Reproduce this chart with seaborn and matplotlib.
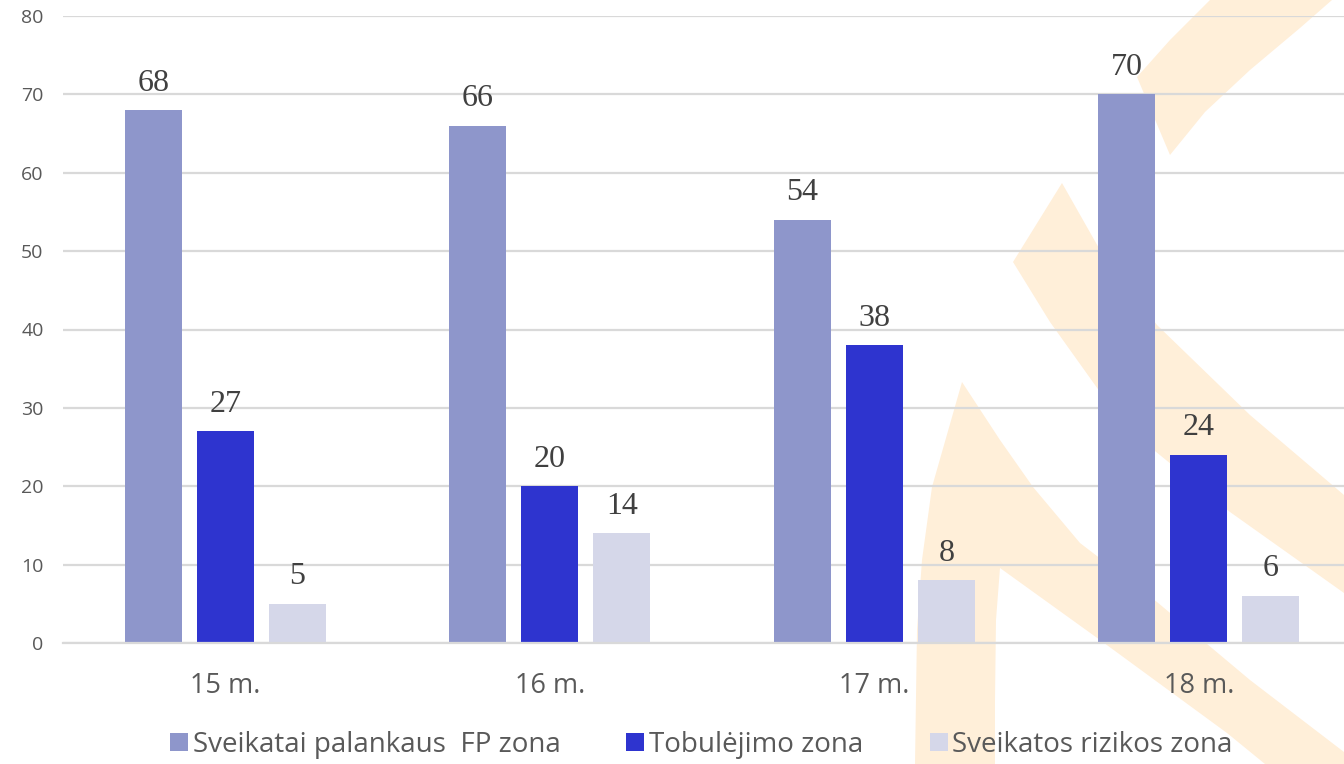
#!/usr/bin/env python3
# -*- coding: utf-8 -*-
"""
Amžiaus grupių pasiskirstymas pagal fizinio pajėgumo zonas (grupuotos stulpelinės diagramos)
"""

import pandas as pd
import matplotlib.pyplot as plt
import seaborn as sns
from matplotlib.lines import Line2D
from matplotlib.patches import Polygon
import warnings

warnings.filterwarnings('ignore')

# duomenys
categories = ['15 m.', '16 m.', '17 m.', '18 m.']
series_names = ['Sveikatai palankaus  FP zona', 'Tobulėjimo zona', 'Sveikatos rizikos zona']
palankaus = [68, 66, 54, 70]
tobulejimo = [27, 20, 38, 24]
rizikos = [5, 14, 8, 6]
y_ticks = [0, 10, 20, 30, 40, 50, 60, 70, 80]

colors = ['#8E96CB', '#2E34CF', '#D5D7E9']
text_gray = '#595959'
grid_gray = '#D9D9D9'
watermark = '#FFEFD9'

# fono "logotipo" juostos (dekoracija, pikseliais)
wm_shapes = [
    [(1210, 0), (1332, 0), (1300, 28), (1250, 70), (1205, 112), (1170, 155),
     (1137, 77), (1170, 40)],
    [(1062, 183), (1100, 250), (1157, 325), (1250, 415), (1344, 495),
     (1344, 593), (1230, 512), (1150, 447), (1100, 392), (1050, 322), (1013, 262)],
    [(962, 382), (1000, 440), (1033, 487), (1080, 543), (1157, 602), (1250, 680),
     (1344, 752), (1344, 764), (1265, 764), (1227, 733), (1100, 640), (1000, 568),
     (996, 620), (995, 700), (995, 764), (915, 764), (917, 630), (922, 560), (932, 487)],
]


def build_frame():
    rows = []
    for name, vals in zip(series_names, [palankaus, tobulejimo, rizikos]):
        for cat, v in zip(categories, vals):
            rows.append({'amzius': cat, 'zona': name, 'reiksme': v})
    return pd.DataFrame(rows)


def main():
    sns.set_theme(style='white')
    plt.rcParams['font.family'] = ['Open Sans', 'DejaVu Sans']

    data = build_frame()

    fig = plt.figure(figsize=(13.44, 7.64), dpi=100)
    fig.patch.set_facecolor('white')

    # fonas
    ax_bg = fig.add_axes([0, 0, 1, 1], zorder=0)
    ax_bg.set_xlim(0, 1344)
    ax_bg.set_ylim(764, 0)
    ax_bg.axis('off')
    for pts in wm_shapes:
        ax_bg.add_patch(Polygon(pts, closed=True, facecolor=watermark,
                                edgecolor='none'))

    ax = fig.add_axes([63 / 1344, 1 - 643 / 764, 1 - 63 / 1344, (643 - 16) / 764],
                      zorder=1)
    ax.set_facecolor('none')

    sns.barplot(data=data, x='amzius', y='reiksme', hue='zona',
                order=categories, hue_order=series_names, palette=colors,
                width=0.666, gap=0.21, linewidth=0, saturation=1,
                legend=False, ax=ax)

    for cont in ax.containers:
        ax.bar_label(cont, padding=9, fontsize=23, color='#404040',
                     family=['Liberation Serif', 'DejaVu Serif'])

    ax.set_ylim(0, 80)
    ax.set_yticks(y_ticks)
    ax.set_xlim(-0.5, 3.5 - 17 / 324.5)
    ax.set_xlabel('')
    ax.set_ylabel('')

    ax.grid(True, axis='y', color=grid_gray, linewidth=1.6)
    ax.set_axisbelow(True)
    for side in ['top', 'right', 'left']:
        ax.spines[side].set_visible(False)
    ax.spines['bottom'].set_color(grid_gray)
    ax.spines['bottom'].set_linewidth(1.6)

    ax.tick_params(axis='y', length=0, pad=14, labelsize=14, labelcolor=text_gray)
    ax.tick_params(axis='x', length=0, pad=21, labelsize=19.5, labelcolor=text_gray)

    handles = [Line2D([0], [0], marker='s', linestyle='none', markersize=12.5,
                      markerfacecolor=c, markeredgewidth=0) for c in colors]
    fig.legend(handles, series_names, loc='center', bbox_to_anchor=(0.521, 0.025),
               ncol=3, frameon=False, fontsize=20, labelcolor=text_gray,
               handletextpad=0.1, columnspacing=2.3, handlelength=0.8,
               borderpad=0, borderaxespad=0)

    fig.savefig('out.png', dpi=100, facecolor='white')
    plt.close(fig)


if __name__ == "__main__":
    main()
